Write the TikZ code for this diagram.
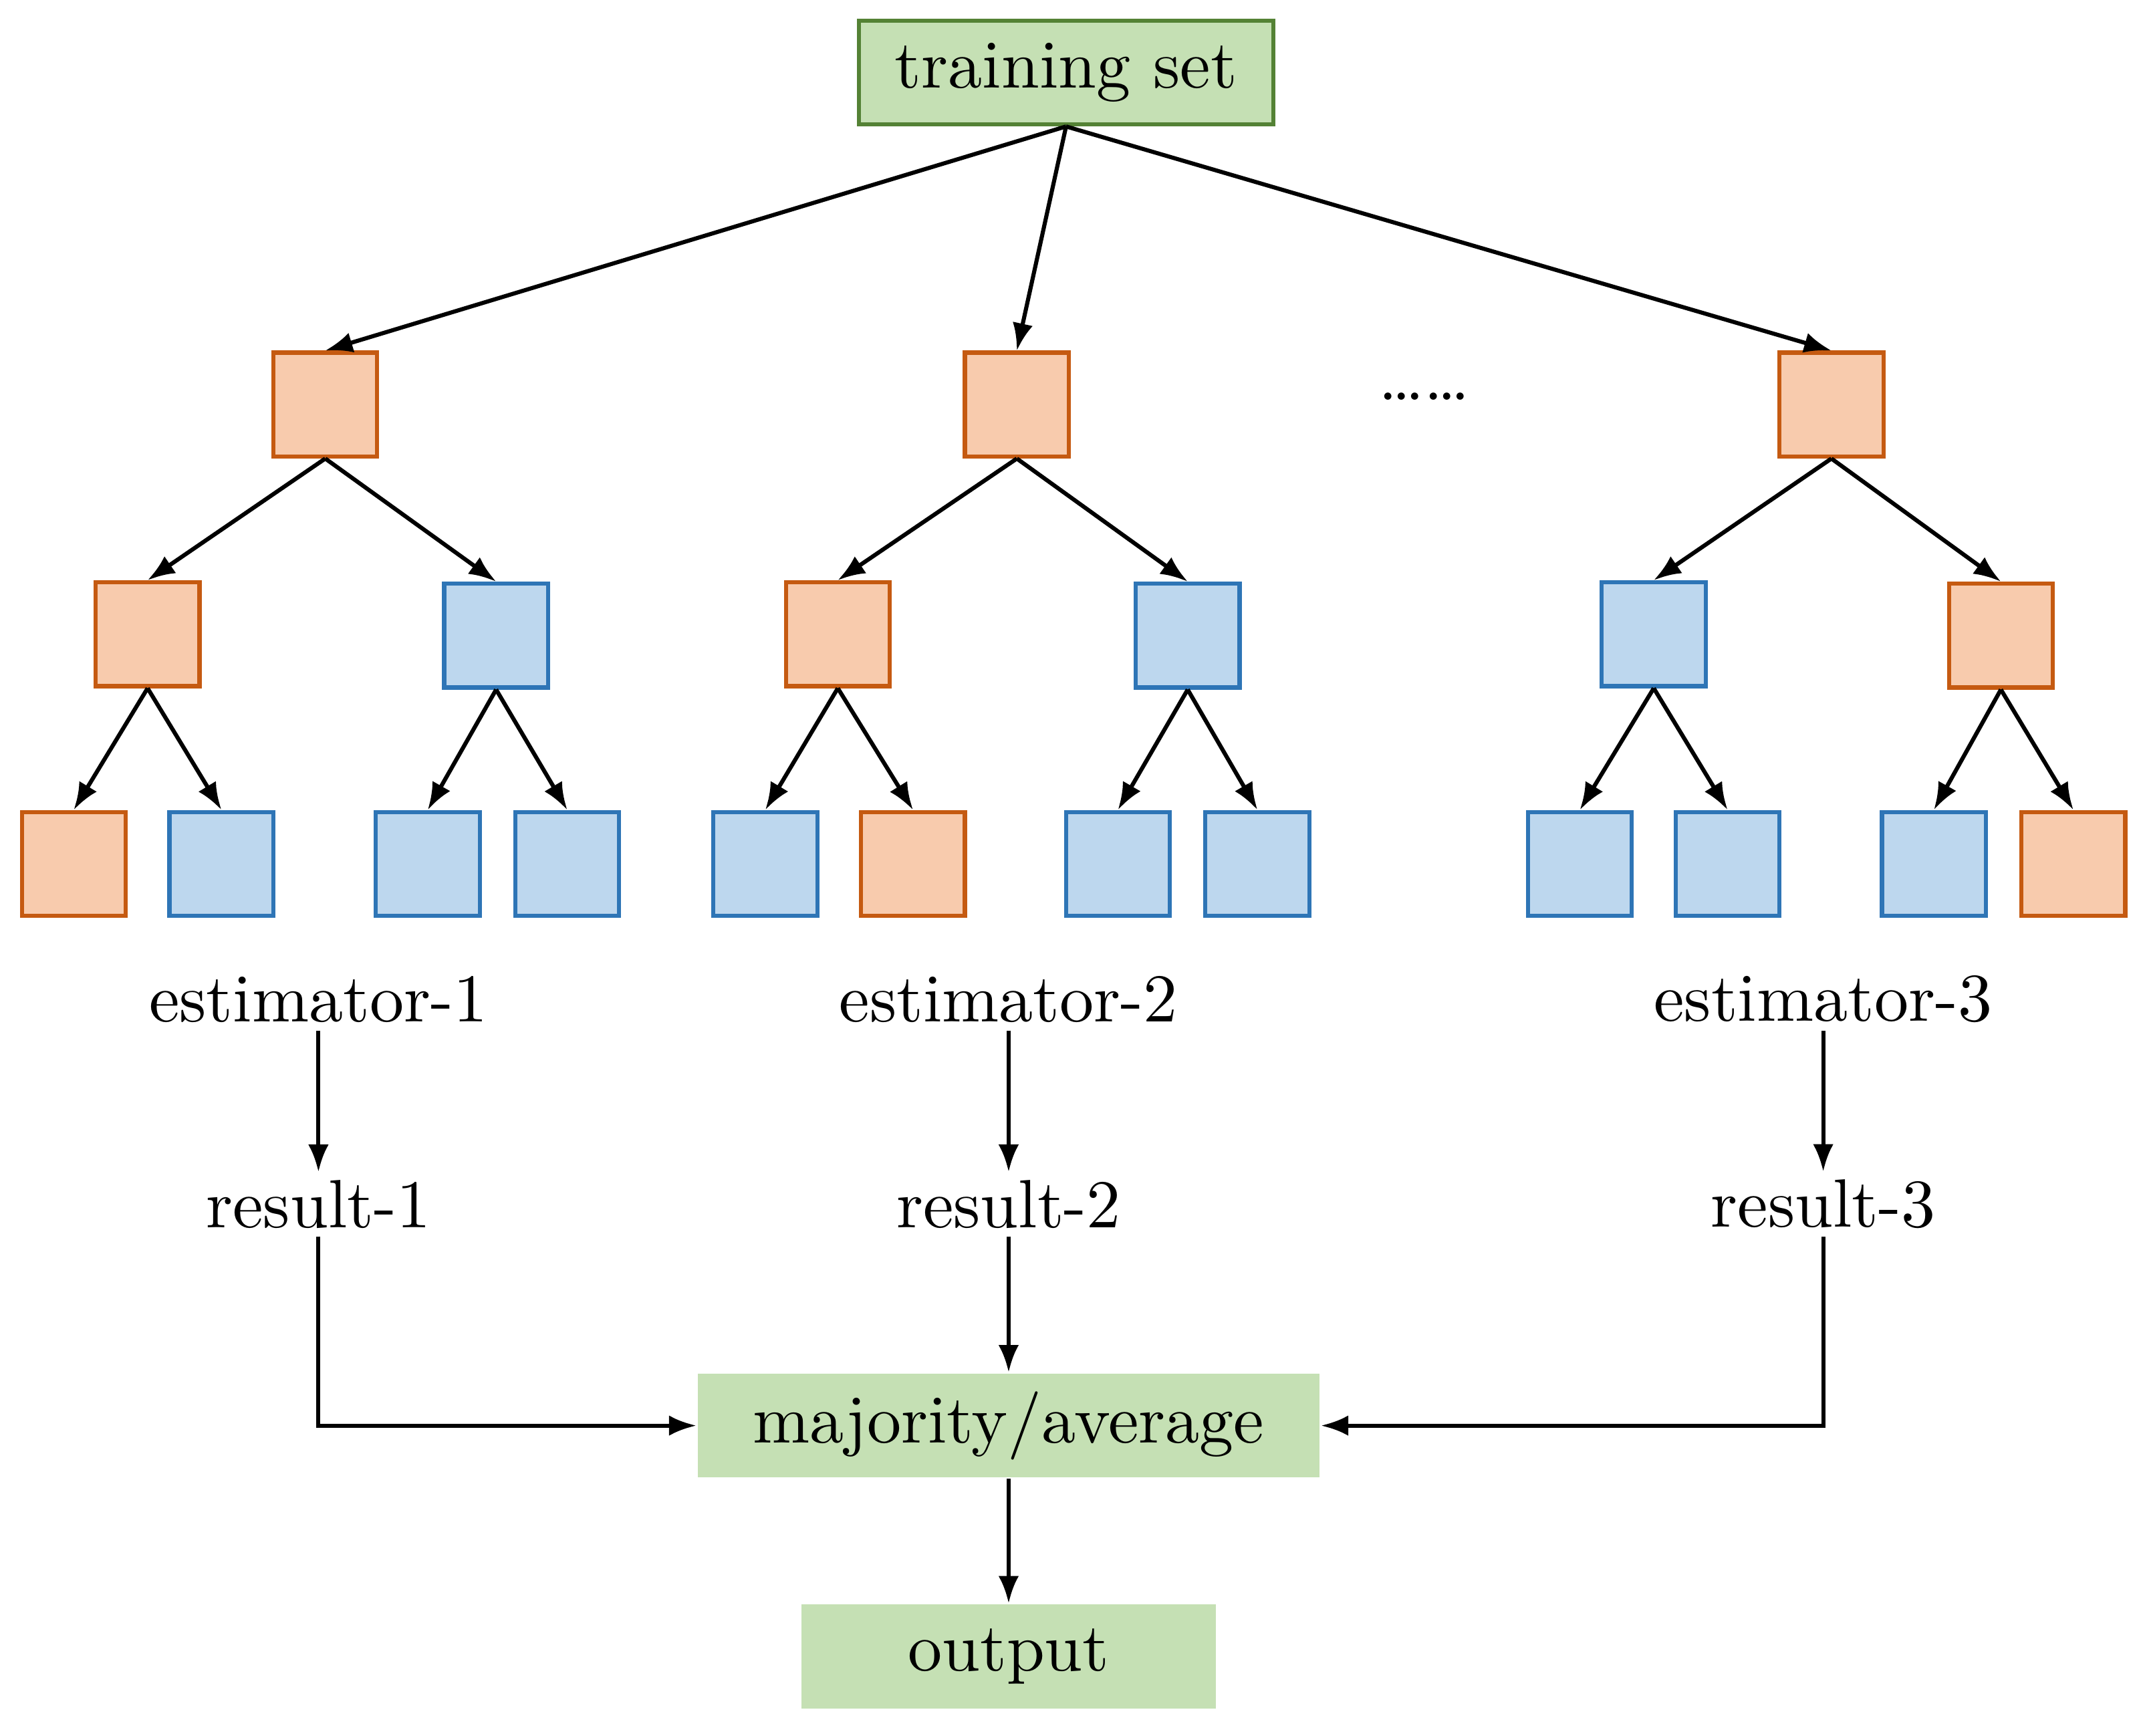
\documentclass[tikz,border=0pt]{standalone}
\usetikzlibrary{arrows.meta}
\definecolor{gfill}{HTML}{C5E0B4}\definecolor{gdraw}{HTML}{548235}
\definecolor{ofill}{HTML}{F8CBAD}\definecolor{odraw}{HTML}{C55A11}
\definecolor{bfill}{HTML}{BDD7EE}\definecolor{bdraw}{HTML}{2E75B6}
\begin{document}
\begin{tikzpicture}[x=0.2pt,y=-0.2pt,
 sq/.style={minimum size=15.2pt,inner sep=0pt,line width=0.6pt},
 O/.style={sq,fill=ofill,draw=odraw},B/.style={sq,fill=bfill,draw=bdraw},
 gbox/.style={fill=gfill,minimum height=15.2pt,inner sep=0pt},
 arr/.style={-{Latex[length=4pt,width=3pt]},line width=0.6pt},
 lab/.style={inner sep=1pt}]
\useasboundingbox (0,0) rectangle (1568,1270);
\node[gbox,draw=gdraw,line width=0.6pt,minimum width=60.6pt] (ts) at (780,53) {training set};
\node[O] (a) at (238,296) {}; \node[O] (b) at (744,296) {}; \node[O] (c) at (1340,296) {};
\node (dots) at (1042,290) {\ldots\ldots};
\node[O] (a1) at (108,464) {}; \node[B] (a2) at (363,465) {};
\node[O] (b1) at (613,464) {}; \node[B] (b2) at (869,465) {};
\node[B] (c1) at (1210,464) {}; \node[O] (c2) at (1464,465) {};
\node[O] (a11) at (54,632) {}; \node[B] (a12) at (162,632) {};
\node[B] (a21) at (313,632) {}; \node[B] (a22) at (415,632) {};
\node[B] (b11) at (560,632) {}; \node[O] (b12) at (668,632) {};
\node[B] (b21) at (818,632) {}; \node[B] (b22) at (920,632) {};
\node[B] (c11) at (1156,632) {}; \node[B] (c12) at (1264,632) {};
\node[B] (c21) at (1415,632) {}; \node[O] (c22) at (1517,632) {};
\foreach \p/\q in {ts/a,ts/b,ts/c,a/a1,a/a2,b/b1,b/b2,c/c1,c/c2,a1/a11,a1/a12,a2/a21,a2/a22,b1/b11,b1/b12,b2/b21,b2/b22,c1/c11,c1/c12,c2/c21,c2/c22}
  \draw[arr] (\p.south) -- (\q.north);
\node[lab] (e1) at (233,731) {estimator-1};
\node[lab] (e2) at (738,731) {estimator-2};
\node[lab] (e3) at (1334,731) {estimator-3};
\node[lab] (r1) at (233,881) {result-1};
\node[lab] (r2) at (738,881) {result-2};
\node[lab] (r3) at (1334,881) {result-3};
\node[gbox,minimum width=91pt] (m) at (738,1043) {majority/average};
\node[gbox,minimum width=60.6pt] (o) at (738,1212) {output};
\draw[arr] (e1) -- (r1); \draw[arr] (e2) -- (r2); \draw[arr] (e3) -- (r3);
\draw[arr] (r1.south) |- (m.west); \draw[arr] (r3.south) |- (m.east);
\draw[arr] (r2.south) -- (m.north); \draw[arr] (m.south) -- (o.north);
\end{tikzpicture}
\end{document}
